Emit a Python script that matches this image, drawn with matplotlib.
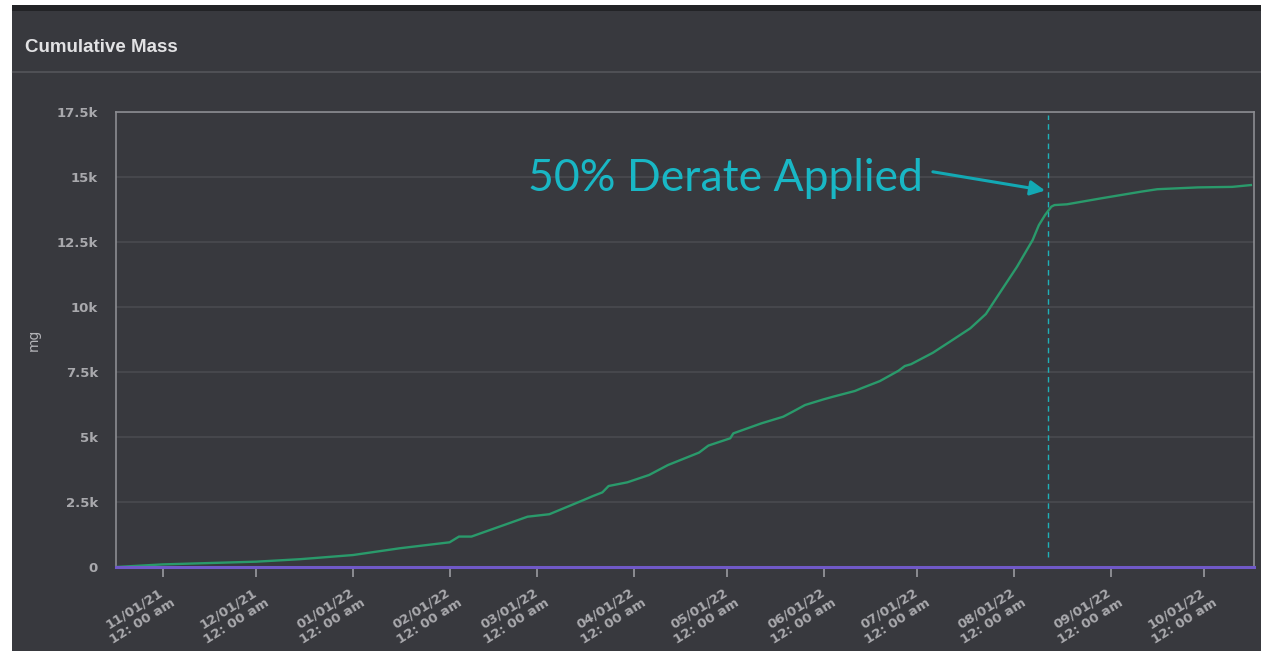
import matplotlib
matplotlib.use("Agg")
import matplotlib.pyplot as plt
import matplotlib.dates as mdates
from matplotlib.patches import Rectangle
from matplotlib.lines import Line2D
import pandas as pd

# values
dates = ["2021-10-17", "2021-11-01", "2021-12-01", "2021-12-15", "2022-01-01",
         "2022-01-16", "2022-02-01", "2022-02-04", "2022-02-08", "2022-02-26",
         "2022-03-05", "2022-03-16", "2022-03-19", "2022-03-22", "2022-03-24",
         "2022-03-30", "2022-04-06", "2022-04-12", "2022-04-22", "2022-04-25",
         "2022-05-02", "2022-05-03", "2022-05-12", "2022-05-19", "2022-05-22",
         "2022-05-26", "2022-06-01", "2022-06-04", "2022-06-11", "2022-06-13",
         "2022-06-19", "2022-06-25", "2022-06-27", "2022-06-29", "2022-07-06",
         "2022-07-11", "2022-07-18", "2022-07-23", "2022-07-27", "2022-08-02",
         "2022-08-07", "2022-08-09", "2022-08-11", "2022-08-13", "2022-08-14",
         "2022-08-18", "2022-08-29", "2022-09-11", "2022-09-16", "2022-09-29",
         "2022-10-10", "2022-10-16"]
mass = [0, 100, 205, 300, 460,
        720, 950, 1170, 1170, 1935,
        2030, 2577, 2730, 2870, 3115,
        3257, 3540, 3920, 4400, 4670,
        4950, 5140, 5525, 5780, 5970,
        6230, 6450, 6550, 6770, 6870,
        7150, 7550, 7730, 7800, 8240,
        8630, 9180, 9730, 10460, 11550,
        12575, 13150, 13540, 13860, 13920,
        13950, 14180, 14440, 14530, 14600,
        14620, 14690]

tick_dates = ["2021-11-01", "2021-12-01", "2022-01-01", "2022-02-01", "2022-03-01",
              "2022-04-01", "2022-05-01", "2022-06-01", "2022-07-01", "2022-08-01",
              "2022-09-01", "2022-10-01"]
y_ticks = [0, 2500, 5000, 7500, 10000, 12500, 15000, 17500]
y_labels = ["0", "2.5k", "5k", "7.5k", "10k", "12.5k", "15k", "17.5k"]

derate_date = "2022-08-12"
note_text = "50% Derate Applied"

BG = "#38393e"
df = pd.DataFrame({"date": pd.to_datetime(dates), "mass": mass})

fig = plt.figure(figsize=(12.61, 6.51), dpi=100)
fig.patch.set_facecolor(BG)

# page chrome: white margin, dark strip, header separator
fig.patches.append(Rectangle((0, 0), 12 / 1261, 1, transform=fig.transFigure,
                             facecolor="white", edgecolor="none", zorder=0))
fig.patches.append(Rectangle((0, 1 - 5 / 651), 1, 5 / 651, transform=fig.transFigure,
                             facecolor="white", edgecolor="none", zorder=0))
fig.patches.append(Rectangle((12 / 1261, 1 - 11 / 651), 1, 6 / 651, transform=fig.transFigure,
                             facecolor="#222326", edgecolor="none", zorder=0))
fig.lines.append(Line2D([13 / 1261, 1], [1 - 72 / 651] * 2, transform=fig.transFigure,
                        color="#4f5055", lw=1.5))

fig.text(25 / 1261, 1 - 52 / 651, "Cumulative Mass", family="Liberation Sans",
         weight="bold", fontsize=13.5, color="#e2e2e4", va="baseline")
fig.text(34 / 1261, 1 - 340 / 651, "mg", rotation=90, ha="center", va="center",
         fontsize=10, color="#b4b4b8")

ax = fig.add_axes([116 / 1261, 1 - 567 / 651, (1254 - 116) / 1261, (567 - 112) / 651])
ax.set_facecolor(BG)

ax.plot(df["date"], df["mass"], color="#2a9a6b", lw=1.7, zorder=3)

ax.set_ylim(0, 17500)
ax.set_xlim(pd.Timestamp("2021-10-17"), pd.Timestamp("2022-10-17"))
ax.set_yticks(y_ticks)
ax.set_yticklabels(y_labels)
ax.yaxis.grid(True, color="#4a4b50", lw=1.2)
ax.set_axisbelow(True)

ax.set_xticks(pd.to_datetime(tick_dates))
ax.xaxis.set_major_formatter(mdates.DateFormatter("%m/%d/%y\n12: 00 am"))

for lab in ax.get_yticklabels():
    lab.set_fontweight("bold")
ax.tick_params(axis="y", length=0, pad=13, labelsize=9.5, labelcolor="#a9a9ad")
ax.tick_params(axis="x", length=7, width=1.2, color="#9a9ba0", pad=5,
               labelsize=9.5, labelcolor="#a9a9ad")
for lab in ax.get_xticklabels():
    lab.set_rotation(32)
    lab.set_ha("right")
    lab.set_va("top")
    lab.set_rotation_mode("anchor")
    lab.set_multialignment("center")
    lab.set_fontweight("bold")

for side in ["left", "top", "right"]:
    ax.spines[side].set_color("#8c8d92")
    ax.spines[side].set_linewidth(1.2)
ax.spines["bottom"].set_color("#7059c8")
ax.spines["bottom"].set_linewidth(2.2)
ax.spines["bottom"].set_zorder(4)

# derate marker
dd = pd.Timestamp(derate_date)
ax.vlines(dd, 380, 17380, color="#1fb0b8", lw=1, linestyles=(0, (4, 3)), zorder=2)
ax.text(pd.Timestamp("2022-02-26"), 14450, note_text, color="#19b7c5",
        family="Lato", weight="normal", fontsize=32, va="baseline", ha="left")
ax.annotate("", xy=(pd.Timestamp("2022-08-11"), 14480),
            xytext=(pd.Timestamp("2022-07-06"), 15200),
            arrowprops=dict(arrowstyle="-|>", color="#13a9b4", lw=2.2,
                            mutation_scale=22, shrinkA=0, shrinkB=0))

fig.savefig("out.png", dpi=100, facecolor=fig.get_facecolor())
